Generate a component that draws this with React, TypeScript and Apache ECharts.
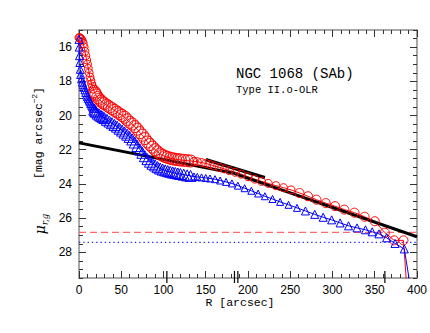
import React, { useEffect, useRef } from "react";
import * as echarts from "echarts";

// ---- data ----
const redR = [0, 1, 2, 3, 4, 5, 6, 7, 8, 9, 10, 11, 12, 13, 14, 15, 16, 17, 18, 19, 20, 22, 24, 26, 28, 30, 33, 36, 39, 42, 45, 48, 51, 54, 57, 60, 63, 66, 69, 72, 75, 78, 81, 84, 87, 90, 93, 96, 99, 102, 105, 108, 111, 114, 117, 120, 124, 128, 132, 136, 140, 145, 150, 155, 160, 166, 172, 178, 185, 192, 200, 208, 216, 224, 233, 242, 251, 261, 271, 281, 292, 303, 314, 326, 338, 350, 362, 373, 384, 390];
const redMu = [15.45, 15.45, 15.5, 15.55, 15.65, 15.8, 16.0, 16.25, 16.5, 16.75, 17.0, 17.25, 17.5, 17.75, 17.95, 18.15, 18.3, 18.45, 18.6, 18.7, 18.8, 18.95, 19.05, 19.15, 19.25, 19.3, 19.4, 19.5, 19.6, 19.7, 19.8, 19.9, 20.0, 20.1, 20.25, 20.4, 20.5, 20.65, 20.8, 21.0, 21.15, 21.35, 21.55, 21.7, 21.85, 22.0, 22.12, 22.25, 22.33, 22.4, 22.45, 22.5, 22.53, 22.56, 22.58, 22.6, 22.62, 22.64, 22.66, 22.68, 22.7, 22.75, 22.8, 22.87, 22.95, 23.03, 23.12, 23.22, 23.32, 23.43, 23.58, 23.72, 23.85, 23.97, 24.1, 24.22, 24.35, 24.53, 24.72, 24.92, 25.12, 25.3, 25.5, 25.68, 25.92, 26.18, 26.85, 27.3, 27.3, 31.5];

const blueR = [0, 0.3, 0.6, 1, 1.5, 2, 3, 4, 5, 6, 7, 8, 9, 10, 11, 12, 13, 14, 15, 16, 17, 18, 19, 20, 22, 24, 26, 28, 30, 33, 36, 39, 42, 45, 48, 51, 54, 57, 60, 63, 66, 69, 72, 75, 78, 81, 84, 87, 90, 93, 96, 99, 102, 105, 108, 111, 114, 117, 120, 124, 128, 132, 136, 140, 145, 150, 155, 161, 167, 174, 181, 188, 196, 204, 212, 220, 229, 238, 248, 258, 268, 279, 289, 299, 309, 319, 329, 339, 347, 355, 364, 374, 385, 397];
const blueMu = [15.55, 16.0, 16.5, 16.9, 17.3, 17.6, 17.85, 18.05, 18.2, 18.35, 18.5, 18.65, 18.8, 18.9, 19.0, 19.1, 19.2, 19.3, 19.4, 19.5, 19.58, 19.65, 19.72, 19.78, 19.88, 19.95, 20.02, 20.08, 20.15, 20.25, 20.35, 20.45, 20.55, 20.65, 20.77, 20.88, 21.0, 21.12, 21.25, 21.4, 21.58, 21.78, 21.98, 22.18, 22.38, 22.55, 22.7, 22.82, 22.92, 23.02, 23.1, 23.16, 23.21, 23.25, 23.29, 23.33, 23.36, 23.39, 23.42, 23.46, 23.5, 23.53, 23.56, 23.59, 23.62, 23.65, 23.68, 23.72, 23.8, 23.88, 23.97, 24.1, 24.25, 24.4, 24.56, 24.72, 24.88, 25.05, 25.22, 25.4, 25.58, 25.78, 25.95, 26.1, 26.28, 26.45, 26.57, 26.68, 26.8, 26.92, 27.15, 27.48, 27.8, 31.5];

const innerFitR = [0, 185];
const innerFitMu = [21.6, 23.39];
const outerFitR = [185, 400];
const outerFitMu = [23.41, 27.09];
const segFitR = [150, 220];
const segFitMu = [22.58, 23.63];

const skyRed = 26.83;
const skyBlue = 27.42;

const breakMarksR = [104, 184, 188, 362];

const xTicks = { min: 0, max: 400, interval: 50 };
const yMin = 15;
const yMax = 29.5;
const yMajor = [16, 18, 20, 22, 24, 26, 28];
const yMinor = [15, 15.5, 16.5, 17, 17.5, 18.5, 19, 19.5, 20.5, 21, 21.5, 22.5, 23, 23.5, 24.5, 25, 25.5, 26.5, 27, 27.5, 28.5, 29, 29.5];

const galaxyName = "NGC 1068 (SAb)";
const galaxyType = "Type II.o-OLR";

const zip = (xs: number[], ys: number[]) => xs.map((x, i) => [x, ys[i]]);

const MONO = "'Liberation Mono', 'DejaVu Sans Mono', monospace";
const SANS = "'Liberation Sans', 'DejaVu Sans', sans-serif";

// marker size by radius (style only)
const circleSize = (v: number[]) => (v[0] < 18 ? 8 : v[0] < 135 ? 12 : v[0] > 260 ? 9 : 8);
const triSize = (v: number[]) => (v[0] < 18 ? 8 : v[0] < 135 ? 11 : v[0] > 260 ? 8 : 7);

export default function App() {
  const ref = useRef<HTMLDivElement>(null);
  useEffect(() => {
    if (!ref.current) return;
    const chart = echarts.init(ref.current, null, { renderer: "svg" });

    const xAxisBase = (pos: string, showLabel: boolean) => ({
      type: "value",
      position: pos,
      min: xTicks.min,
      max: xTicks.max,
      interval: xTicks.interval,
      axisLine: { show: true, onZero: false, lineStyle: { color: "#8a8a8a", width: 1.5 } },
      axisTick: { show: true, inside: true, length: 7, lineStyle: { color: "#333", width: 1 } },
      minorTick: { show: true, splitNumber: 5, length: 4, lineStyle: { color: "#333", width: 1 } },
      axisLabel: { show: showLabel, color: "#000", fontFamily: SANS, fontSize: 12, margin: 6 },
      splitLine: { show: false },
      minorSplitLine: { show: false },
    });

    const yAxisBase = (pos: string, major: boolean, showLabel: boolean) => ({
      type: "value",
      position: pos,
      min: yMin,
      max: yMax,
      inverse: true,
      axisLine: { show: major, onZero: false, lineStyle: { color: "#8a8a8a", width: 1.5 } },
      axisTick: {
        show: true,
        inside: true,
        length: major ? 7 : 4,
        customValues: major ? yMajor : yMinor,
        lineStyle: { color: "#333", width: 1 },
      },
      axisLabel: {
        show: showLabel,
        customValues: yMajor,
        color: "#000",
        fontFamily: SANS,
        fontSize: 12,
        margin: 7,
      },
      splitLine: { show: false },
    });

    const option: any = {
      animation: false,
      backgroundColor: "#fff",
      grid: { left: 79, right: 13, top: 30, bottom: 55, containLabel: false },
      xAxis: [xAxisBase("bottom", true), xAxisBase("top", false)],
      yAxis: [
        yAxisBase("left", true, true),
        yAxisBase("left", false, false),
        yAxisBase("right", true, false),
        yAxisBase("right", false, false),
      ],
      series: [
        {
          type: "line",
          data: [[xTicks.min, skyRed], [xTicks.max, skyRed]],
          symbol: "none",
          silent: true,
          lineStyle: { color: "#ff6a6a", width: 1.2, type: [7, 4] },
        },
        {
          type: "line",
          data: [[xTicks.min, skyBlue], [xTicks.max, skyBlue]],
          symbol: "none",
          silent: true,
          lineStyle: { color: "#1f1fff", width: 1.3, type: [1.3, 3] },
        },
        {
          type: "line",
          data: zip(redR, redMu),
          symbol: "circle",
          symbolSize: circleSize,
          showAllSymbol: true,
          silent: true,
          lineStyle: { color: "#ff0000", width: 1 },
          itemStyle: { color: "rgba(0,0,0,0)", borderColor: "#ff0000", borderWidth: 1 },
        },
        {
          type: "line",
          data: zip(blueR, blueMu),
          symbol: "triangle",
          symbolSize: triSize,
          showAllSymbol: true,
          silent: true,
          lineStyle: { color: "#0000ff", width: 1 },
          itemStyle: { color: "rgba(0,0,0,0)", borderColor: "#0000ff", borderWidth: 1 },
        },
        {
          type: "line",
          data: zip(innerFitR, innerFitMu),
          symbol: "none",
          silent: true,
          lineStyle: { color: "#000", width: 3 },
        },
        {
          type: "line",
          data: zip(outerFitR, outerFitMu),
          symbol: "none",
          silent: true,
          lineStyle: { color: "#000", width: 3 },
        },
        {
          type: "line",
          data: zip(segFitR, segFitMu),
          symbol: "none",
          silent: true,
          lineStyle: { color: "#000", width: 3.5 },
        },
        {
          type: "custom",
          silent: true,
          clip: false,
          data: breakMarksR.map((r) => [r, yMax]),
          renderItem: (_p: any, api: any) => {
            const pt = api.coord([api.value(0), api.value(1)]);
            return {
              type: "line",
              shape: { x1: pt[0], y1: pt[1] - 7, x2: pt[0], y2: pt[1] + 5 },
              style: { stroke: "#000", lineWidth: 1.2 },
            };
          },
        },
      ],
      graphic: [
        {
          type: "text",
          left: 236,
          top: 67,
          style: { text: galaxyName, fontFamily: MONO, fontSize: 14, fill: "#000" },
        },
        {
          type: "text",
          left: 236,
          top: 84,
          style: { text: galaxyType, fontFamily: MONO, fontSize: 10.5, fill: "#000" },
        },
        {
          type: "text",
          x: 240,
          y: 302,
          style: {
            text: "R [arcsec]",
            fontFamily: MONO,
            fontSize: 11.5,
            fill: "#000",
            align: "center",
            verticalAlign: "middle",
          },
        },
        {
          type: "text",
          x: 38,
          y: 133,
          rotation: Math.PI / 2,
          style: {
            text: "{a|[mag arcsec}{s|−2}{a|]}",
            align: "center",
            verticalAlign: "middle",
            fill: "#000",
            rich: {
              a: { fontFamily: MONO, fontSize: 11.5, lineHeight: 16, verticalAlign: "middle" },
              s: { fontFamily: SANS, fontSize: 8, lineHeight: 9, verticalAlign: "top" },
            },
          },
        },
        {
          type: "text",
          x: 40,
          y: 224,
          rotation: Math.PI / 2,
          style: {
            text: "{m|μ}{b|r,g}",
            align: "center",
            verticalAlign: "middle",
            fill: "#000",
            rich: {
              m: { fontFamily: "'DejaVu Serif', serif", fontStyle: "italic", fontSize: 14, lineHeight: 18, verticalAlign: "middle" },
              b: { fontFamily: "'DejaVu Serif', serif", fontStyle: "italic", fontSize: 8.5, lineHeight: 9, verticalAlign: "bottom" },
            },
          },
        },
      ],
    };
    chart.setOption(option);
    return () => chart.dispose();
  }, []);
  return (
    <div
      ref={ref}
      style={{ position: "absolute", left: 0, top: 0, width: 430, height: 333, background: "#fff" }}
    />
  );
}
